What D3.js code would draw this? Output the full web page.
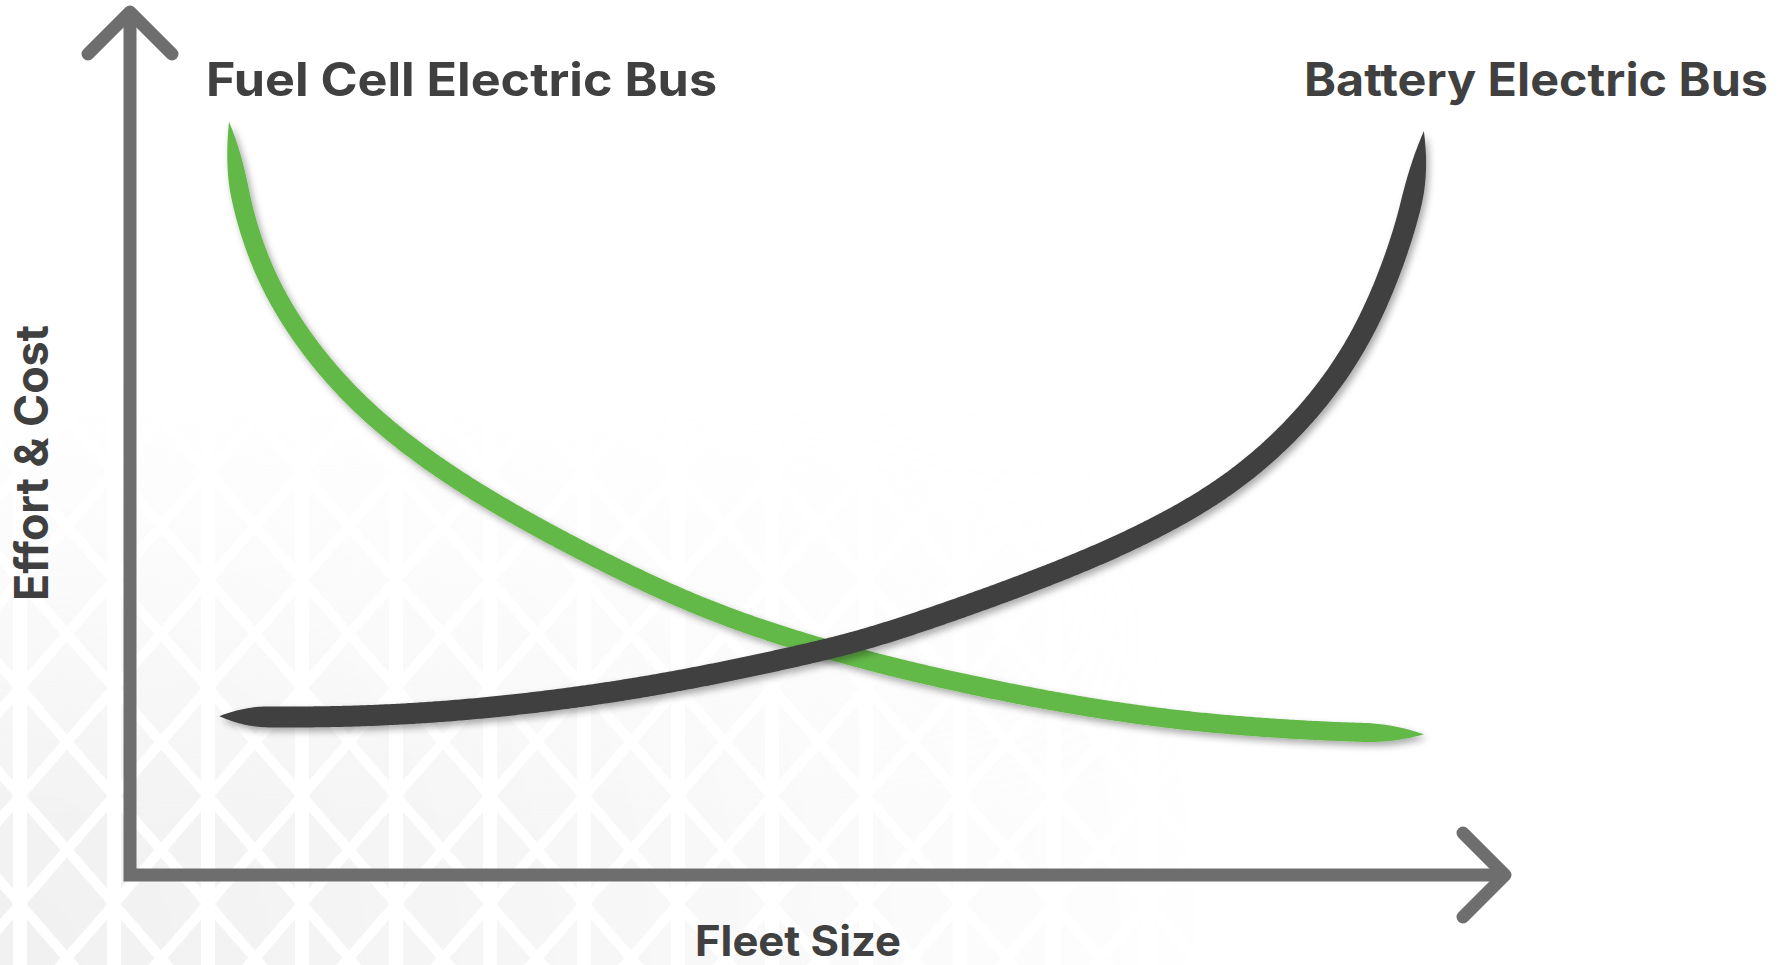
<!DOCTYPE html>
<html><head><meta charset="utf-8">
<script src="https://cdn.jsdelivr.net/npm/d3@7"></script>
<style>html,body{margin:0;padding:0;background:#fff;overflow:hidden}</style>
</head><body><svg id="c" width="1790" height="965"></svg>
<script>
// ---- data (abstract units, 0..100 on both axes) ----
const seriesNames = ["Fuel Cell Electric Bus", "Battery Electric Bus"];
const axisTitles = ["Fleet Size", "Effort & Cost"];
const fuelCellX = [7.2, 7.6, 8.1, 9.8, 13.0, 17.7, 24.9, 34.6, 42.0, 48.7, 55.3, 62.0, 69.5, 77.7, 86.0, 90.2, 94.1];
const fuelCellY = [87.3, 82.9, 77.4, 69.1, 60.8, 52.6, 44.3, 36.0, 30.6, 27.0, 24.1, 21.7, 19.4, 17.6, 16.7, 16.5, 16.3];
const batteryX = [6.5, 9.7, 15.4, 22.1, 28.7, 35.3, 42.0, 48.7, 53.7, 61.1, 69.5, 76.1, 81.0, 85.2, 88.5, 90.8, 92.5, 93.5, 94.1];
const batteryY = [18.4, 18.3, 18.3, 18.8, 19.8, 21.2, 23.1, 25.4, 27.3, 31.3, 36.3, 41.3, 46.3, 52.5, 59.3, 66.3, 73.6, 79.6, 86.2];

const svg = d3.select("#c");
const x = d3.scaleLinear().domain([0, 100]).range([130, 1505]);
const y = d3.scaleLinear().domain([0, 100]).range([875, 12]);

const defs = svg.append("defs");
// faint background triangle pattern
const pat = defs.append("pattern").attr("id", "tri").attr("patternUnits", "userSpaceOnUse")
  .attr("width", 94).attr("height", 108).attr("x", 20).attr("y", 40);
pat.append("rect").attr("width", 94).attr("height", 108).attr("fill", "#efefef");
pat.append("path").attr("d", "M0,0L94,108M0,108L94,0M-94,0L0,108M-94,108L0,0M94,0L188,108M94,108L188,0M0,-108L94,0M0,0L94,-108M0,108L94,216M0,216L94,108")
  .attr("stroke", "#fff").attr("stroke-width", 10);
pat.append("path").attr("d", "M0,0L0,108M94,0L94,108").attr("stroke", "#fff").attr("stroke-width", 14);
const rg = defs.append("radialGradient").attr("id", "fade").attr("gradientUnits", "userSpaceOnUse")
  .attr("cx", 0).attr("cy", 965).attr("r", 1450);
rg.append("stop").attr("offset", 0).attr("stop-color", "#fff").attr("stop-opacity", 0.9);
rg.append("stop").attr("offset", 0.5).attr("stop-color", "#fff").attr("stop-opacity", 0.42);
rg.append("stop").attr("offset", 0.85).attr("stop-color", "#fff").attr("stop-opacity", 0);
const lg = defs.append("linearGradient").attr("id", "vfade").attr("x1", 0).attr("y1", 0).attr("x2", 0).attr("y2", 1);
lg.append("stop").attr("offset", 0.4).attr("stop-color", "#fff").attr("stop-opacity", 0);
lg.append("stop").attr("offset", 0.85).attr("stop-color", "#fff").attr("stop-opacity", 1);
defs.append("mask").attr("id", "m1").append("rect").attr("width", 1790).attr("height", 965).attr("fill", "url(#fade)");
defs.append("mask").attr("id", "m2").append("rect").attr("width", 1790).attr("height", 965).attr("fill", "url(#vfade)");
svg.append("g").attr("mask", "url(#m2)")
  .append("rect").attr("width", 1790).attr("height", 965).attr("fill", "url(#tri)").attr("mask", "url(#m1)");

// drop shadow
const f = defs.append("filter").attr("id", "sh").attr("x", "-10%").attr("y", "-10%").attr("width", "120%").attr("height", "120%");
f.append("feDropShadow").attr("dx", 3).attr("dy", 4).attr("stdDeviation", 3.5)
  .attr("flood-color", "#000").attr("flood-opacity", 0.33);

// axes
const axisColor = "#6e6e6e";
svg.append("path").attr("d", `M${x(0)},${y(100)}L${x(0)},${y(0)}L${x(100)},${y(0)}`)
  .attr("fill", "none").attr("stroke", axisColor).attr("stroke-width", 13).attr("stroke-linejoin", "miter");
const a = 42;
svg.append("path").attr("d", `M${x(0) - a},${y(100) + a}L${x(0)},${y(100)}L${x(0) + a},${y(100) + a}`)
  .attr("fill", "none").attr("stroke", axisColor).attr("stroke-width", 13)
  .attr("stroke-linecap", "round").attr("stroke-linejoin", "round");
svg.append("path").attr("d", `M${x(100) - a},${y(0) - a}L${x(100)},${y(0)}L${x(100) - a},${y(0) + a}`)
  .attr("fill", "none").attr("stroke", axisColor).attr("stroke-width", 13)
  .attr("stroke-linecap", "round").attr("stroke-linejoin", "round");

// tapered brush strokes
function brush(xs, ys, W, t0, t1) {
  const pts = xs.map((v, i) => [x(v), y(ys[i])]);
  const d = d3.line().curve(d3.curveBasis)(pts);
  const tmp = svg.append("path").attr("d", d).attr("fill", "none");
  const node = tmp.node(), L = node.getTotalLength();
  const N = 600, left = [], right = [];
  for (let i = 0; i <= N; i++) {
    const s = L * i / N, p = node.getPointAtLength(s);
    const p1 = node.getPointAtLength(Math.max(0, s - 1.5)), p2 = node.getPointAtLength(Math.min(L, s + 1.5));
    let dx = p2.x - p1.x, dy = p2.y - p1.y; const m = Math.hypot(dx, dy) || 1; dx /= m; dy /= m;
    let w = W / 2;
    if (s < t0) { const t = s / t0; w *= 1 - (1 - t) * (1 - t); }
    if (L - s < t1) { const t = (L - s) / t1; w *= 1 - (1 - t) * (1 - t); }
    left.push([p.x - dy * w, p.y + dx * w]); right.push([p.x + dy * w, p.y - dx * w]);
  }
  tmp.remove();
  return d3.line()(left.concat(right.reverse())) + "Z";
}
svg.append("path").attr("d", brush(fuelCellX, fuelCellY, 19, 75, 60)).attr("fill", "#63b946").attr("filter", "url(#sh)");
svg.append("path").attr("d", brush(batteryX, batteryY, 21, 50, 75)).attr("fill", "#3f3f41").attr("filter", "url(#sh)");

// text
const font = "Inter, 'Open Sans', 'Liberation Sans', sans-serif";
const txt = (s, px, py, size, len) => svg.append("text").text(s).attr("x", px).attr("y", py)
  .attr("font-family", font).attr("font-weight", 700).attr("font-size", size).attr("fill", "#404040")
  .attr("textLength", len).attr("lengthAdjust", "spacingAndGlyphs");
txt(seriesNames[0], 206, 96, 46, 511);
txt(seriesNames[1], 1304, 96, 46, 464);
txt(axisTitles[0], 695, 956, 42, 206);
txt(axisTitles[1], 0, 0, 46, 276).attr("text-anchor", "middle").attr("x", null).attr("y", null)
  .attr("transform", "translate(48,463) rotate(-90)");
</script></body></html>
